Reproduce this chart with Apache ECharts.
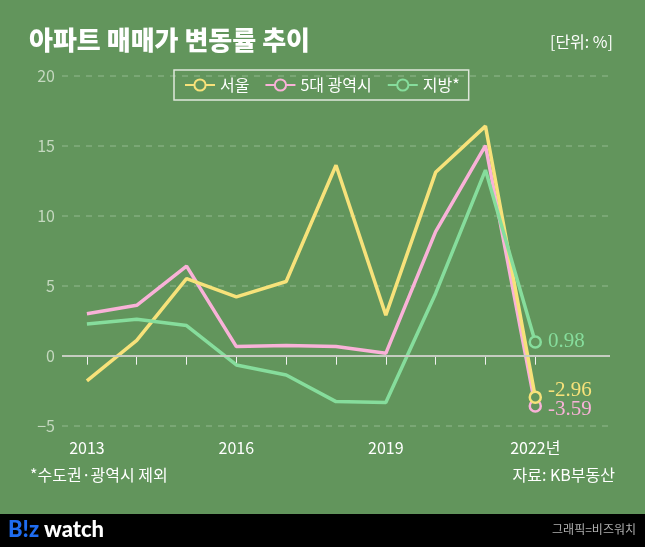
<!DOCTYPE html>
<html><head><meta charset="utf-8">
<script src="https://cdn.jsdelivr.net/npm/echarts@6/dist/echarts.min.js"></script>
<style>html,body{margin:0;padding:0;background:#62955c}#c{width:645px;height:547px}</style>
</head><body><div id="c"></div>
<script>
const years = [2013,2014,2015,2016,2017,2018,2019,2020,2021,2022];
const seoul = [-1.8,1.1,5.5,4.2,5.3,13.6,2.9,13.1,16.4,-2.96];
const metro = [3.0,3.6,6.4,0.65,0.72,0.65,0.17,8.86,15.0,-3.59];
const local = [2.26,2.6,2.15,-0.66,-1.38,-3.28,-3.35,4.45,13.26,0.98];
const tickYears = [2013,2014,2015,2016,2017,2018,2019,2020,2021,2022];
const labelYears = [2013,2016,2019,2022];
const seriesNames = ['서울','5대 광역시','지방*'];

const BG = '#62955c';
const colors = ['#f7e27a','#f9b2d8','#86dd9c'];
const labelOffsets = [[0,-7],[0,4],[0,0]];
const FONT = '"Noto Sans CJK KR", "Noto Sans", sans-serif';

function mk(vals, idx){
  return vals.map((v,i)=>{
    const last = i === vals.length-1;
    const d = {value:[years[i], v]};
    if(!last){ d.symbol='none'; }
    else {
      d.label = {show:true, position:'right', distance:6, offset:labelOffsets[idx],
        color:colors[idx], fontFamily:'"Liberation Serif", "DejaVu Serif", serif', fontSize:21,
        formatter: (p)=> String(p.value[1])};
    }
    return d;
  });
}

const series = [seoul, metro, local].map((vals, idx)=>({
  name: seriesNames[idx], type:'line', data: mk(vals, idx),
  symbol:'circle', symbolSize:11, showSymbol:true,
  z: [3,2,4][idx],
  lineStyle:{color:colors[idx], width:3.5},
  itemStyle:{color:BG, borderColor:colors[idx], borderWidth:2.5},
  emphasis:{disabled:true}, silent:true, animation:false
}));
series.push({
  type:'line', data:[], silent:true, animation:false,
  markLine:{silent:true, symbol:'none', label:{show:false},
    lineStyle:{color:'#c6cdc1', width:2, type:'solid'}, data:[{yAxis:0}]}
});

const chart = echarts.init(document.getElementById('c'), null, {renderer:'canvas'});
chart.setOption({
  backgroundColor: BG,
  animation:false,
  grid:{left:62, right:35, top:75.7, bottom:121.3},
  legend:{
    data: seriesNames.map((n,i)=>({name:n})),
    left:174, top:70, padding:[7,9,7,10], itemGap:15, itemWidth:30, itemHeight:14,
    borderColor:'#dfe7dc', borderWidth:1.5,
    textStyle:{color:'#ffffff', fontSize:16, fontFamily:FONT}
  },
  xAxis:{
    type:'value', min:2012.5, max:2023.5,
    splitLine:{show:false}, axisLine:{show:false},
    axisTick:{show:true, customValues:tickYears, length:9, lineStyle:{color:'#f2f2f2', width:1}},
    axisLabel:{show:true, customValues:labelYears, margin:14, color:'#ffffff', fontSize:16, fontFamily:FONT,
      formatter:(v)=> v===2022 ? '2022년' : String(v)}
  },
  yAxis:{
    type:'value', min:-5, max:20, interval:5,
    axisLine:{show:false}, axisTick:{show:false},
    axisLabel:{color:'#c4d8bf', fontSize:16, margin:7, fontFamily:FONT,
      formatter:(v)=> v<0 ? '\u2212'+Math.abs(v) : String(v)},
    splitLine:{show:true, lineStyle:{color:'#82ad7d', width:1.5, type:[6,6]}}
  },
  series: series,
  graphic:[
    {type:'text', left:29, top:27, style:{text:'아파트 매매가 변동률 추이', fill:'#ffffff', font:'900 26px '+FONT}},
    {type:'text', right:32, top:34, style:{text:'[단위: %]', fill:'#ffffff', font:'16px '+FONT}},
    {type:'text', left:30, top:467, style:{text:'*수도권·광역시 제외', fill:'#ffffff', font:'16px '+FONT}},
    {type:'text', right:30, top:467, style:{text:'자료: KB부동산', fill:'#ffffff', font:'16px '+FONT}},
    {type:'rect', left:0, top:514, shape:{width:645, height:33}, style:{fill:'#000000'}},
    {type:'text', left:8, top:519, style:{text:'B!z', fill:'#1f6cf0', font:'900 22px Lato, "DejaVu Sans", sans-serif'}},
    {type:'text', left:44, top:519, style:{text:'watch', fill:'#ffffff', font:'900 22px Lato, "DejaVu Sans", sans-serif'}},
    {type:'text', right:9, top:523, style:{text:'그래픽=비즈워치', fill:'#b0b0b0', font:'12px '+FONT}}
  ]
});
</script>
</body></html>
